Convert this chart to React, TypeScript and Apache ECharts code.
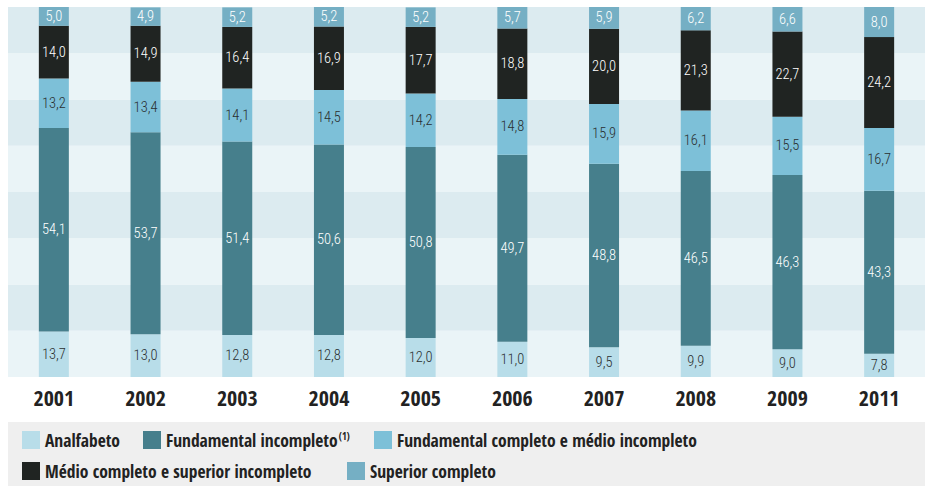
import React, { useEffect, useRef } from "react";
import * as echarts from "echarts";

const years = ["2001", "2002", "2003", "2004", "2005", "2006", "2007", "2008", "2009", "2011"];
const analfabeto = [13.7, 13.0, 12.8, 12.8, 12.0, 11.0, 9.5, 9.9, 9.0, 7.8];
const fundIncompleto = [54.1, 53.7, 51.4, 50.6, 50.8, 49.7, 48.8, 46.5, 46.3, 43.3];
const fundCompleto = [13.2, 13.4, 14.1, 14.5, 14.2, 14.8, 15.9, 16.1, 15.5, 16.7];
const medioCompleto = [14.0, 14.9, 16.4, 16.9, 17.7, 18.8, 20.0, 21.3, 22.7, 24.2];
const superiorCompleto = [5.0, 4.9, 5.2, 5.2, 5.2, 5.7, 5.9, 6.2, 6.6, 8.0];

const seriesNames = [
  "Analfabeto",
  "Fundamental incompleto",
  "Fundamental completo e médio incompleto",
  "Médio completo e superior incompleto",
  "Superior completo",
];
const seriesData = [analfabeto, fundIncompleto, fundCompleto, medioCompleto, superiorCompleto];
const seriesColors = ["#b8dde9", "#467f8c", "#7dc0d8", "#202422", "#75afc4"];
const labelColors = ["#2a2f30", "#ffffff", "#2a2f30", "#ffffff", "#ffffff"];

const BOLD_FONT = "'Open Sans Condensed', 'Roboto Condensed', sans-serif";
const VALUE_FONT = "'Roboto Condensed', 'Open Sans Condensed', sans-serif";

export default function App() {
  const ref = useRef<HTMLDivElement>(null);
  useEffect(() => {
    document.body.style.margin = "0";
    const chart = echarts.init(ref.current!, null, { renderer: "svg" });
    const legendPos = [
      { left: 22, top: 431 },
      { left: 143, top: 431 },
      { left: 374, top: 431 },
      { left: 22, top: 462 },
      { left: 347, top: 462 },
    ];
    chart.setOption({
      animation: false,
      grid: { left: 8, right: 0, top: 7, bottom: 109 },
      graphic: [
        {
          type: "rect",
          shape: { x: 8, y: 422, width: 917, height: 64 },
          style: { fill: "#efefef" },
          z: -10,
          silent: true,
        },
      ],
      legend: seriesNames.map((n, i) => ({
        data: [n],
        left: legendPos[i].left,
        top: legendPos[i].top,
        padding: 0,
        itemWidth: 18,
        itemHeight: 18,
        icon: "rect",
        selectedMode: false,
        formatter: (name: string) =>
          name === "Fundamental incompleto" ? "{m|" + name + "}{s|(1)}" : name,
        textStyle: {
          fontFamily: BOLD_FONT,
          fontWeight: "bold",
          fontSize: 17.5,
          color: "#222",
          rich: {
            m: { fontFamily: BOLD_FONT, fontWeight: "bold", fontSize: 17.5, color: "#222" },
            s: {
              fontFamily: BOLD_FONT,
              fontWeight: "bold",
              fontSize: 10,
              color: "#222",
              verticalAlign: "top",
              padding: [0, 0, 8, 1],
            },
          },
        },
      })),
      xAxis: {
        type: "category",
        data: years,
        axisLine: { show: false },
        axisTick: { show: false },
        axisLabel: {
          margin: 9,
          fontFamily: BOLD_FONT,
          fontWeight: "bold",
          fontSize: 22,
          color: "#222",
        },
      },
      yAxis: [
        {
          type: "value",
          min: 0,
          max: 100,
          interval: 12.5,
          axisLabel: { show: false },
          axisLine: { show: false },
          axisTick: { show: false },
          splitLine: { show: false },
          splitArea: { show: true, areaStyle: { color: ["#eaf4f7", "#dcebf0"] } },
        },
        {
          type: "value",
          min: 1.6,
          max: 100,
          show: false,
          splitLine: { show: false },
          splitArea: { show: false },
        },
      ],
      series: seriesNames.map((n, i) => ({
        name: n,
        type: "bar",
        stack: "total",
        yAxisIndex: 1,
        barWidth: 30,
        clip: true,
        data: seriesData[i],
        itemStyle: { color: seriesColors[i] },
        label: {
          show: true,
          position: "inside",
          fontFamily: VALUE_FONT,
          fontWeight: 300,
          fontSize: 14.5,
          color: labelColors[i],
          formatter: (p: any) => Number(p.value).toFixed(1).replace(".", ","),
        },
      })),
    });
    return () => chart.dispose();
  }, []);
  return <div ref={ref} style={{ width: 925, height: 486 }} />;
}
